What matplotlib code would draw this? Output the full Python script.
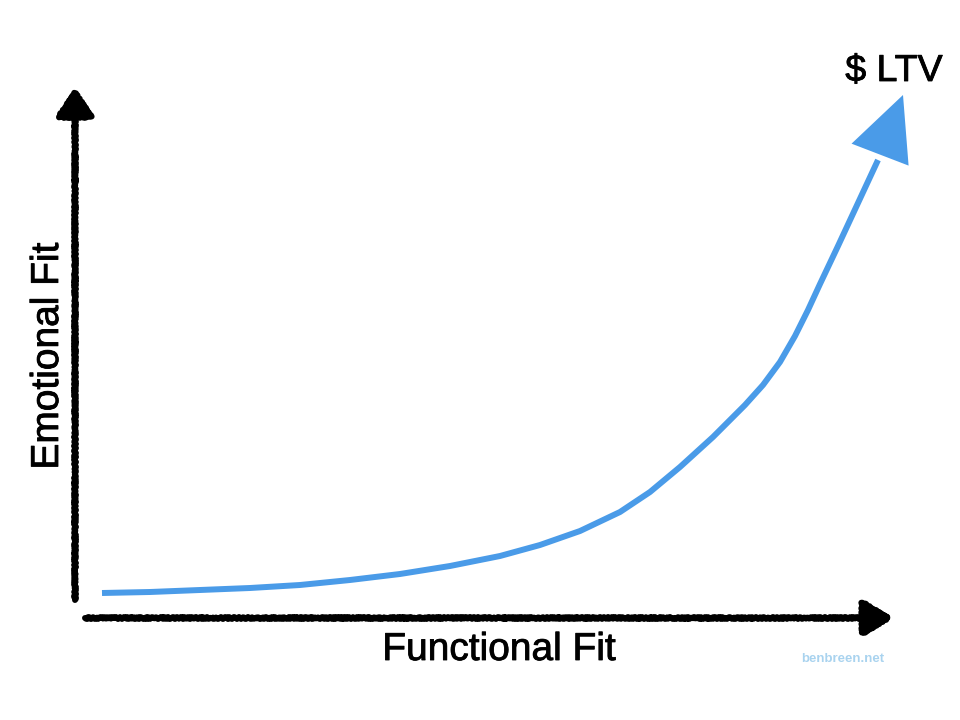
import matplotlib.pyplot as plt
import matplotlib.patheffects as pe

# curve (pixel-like coords, y grows downward)
curve_x = [102, 150, 200, 250, 300, 350, 400, 450, 500, 540, 580, 620, 650,
           680, 713, 745, 763, 780, 795, 808, 820, 838, 858, 878]
curve_y = [593, 592, 590, 588, 585, 580, 574, 566, 556, 545, 531, 512, 492,
           467, 437, 405, 385, 362, 336, 310, 284, 246, 203, 160]
curve_tip = (903, 95)

# axes arrows: (start, tip)
y_axis = ((75, 600), (75, 88))
x_axis = ((85, 618), (893, 618))

x_label = 'Functional Fit'
y_label = 'Emotional Fit'
end_label = '$ LTV'
credit = 'benbreen.net'

blue = '#4a9be8'

plt.rcParams['font.family'] = ['Liberation Sans', 'DejaVu Sans']

fig = plt.figure(figsize=(9.6, 7.2), dpi=100)
ax = fig.add_axes([0, 0, 1, 1])
ax.set_xlim(0, 960)
ax.set_ylim(720, 0)
ax.axis('off')

# hand drawn looking axes
for (start, tip), hl, hw in [(y_axis, 1.7, 1.15), (x_axis, 1.8, 1.1)]:
    ann = ax.annotate('', xy=tip, xytext=start,
                      arrowprops=dict(arrowstyle='-|>,head_length=%s,head_width=%s' % (hl, hw),
                                      mutation_scale=10, lw=4.3, color='black',
                                      shrinkA=0, shrinkB=0))
    ann.arrow_patch.set_sketch_params(1.0, 4, 2)

ax.plot(curve_x, curve_y, color=blue, lw=4.3, solid_capstyle='butt',
        solid_joinstyle='round')
ax.annotate('', xy=curve_tip, xytext=(curve_x[-1], curve_y[-1]),
            arrowprops=dict(arrowstyle='-|>,head_length=4.6,head_width=2.2',
                            mutation_scale=10, lw=0, color=blue,
                            shrinkA=0, shrinkB=0))

# a thin stroke makes the regular face look like the medium weight used
thick = [pe.withStroke(linewidth=0.6, foreground='black')]
ax.text(499, 650, x_label, fontsize=28, ha='center', va='center', color='black',
        path_effects=thick)
ax.text(48, 356, y_label, fontsize=28, ha='center', va='center', rotation=90,
        color='black', path_effects=thick)
ax.text(894, 71, end_label, fontsize=27, ha='center', va='center', color='black',
        path_effects=thick)
ax.text(843, 659, credit, fontsize=9.5, ha='center', va='center', color='#a9d3ef',
        fontweight='bold')

fig.savefig('out.png', dpi=100)
